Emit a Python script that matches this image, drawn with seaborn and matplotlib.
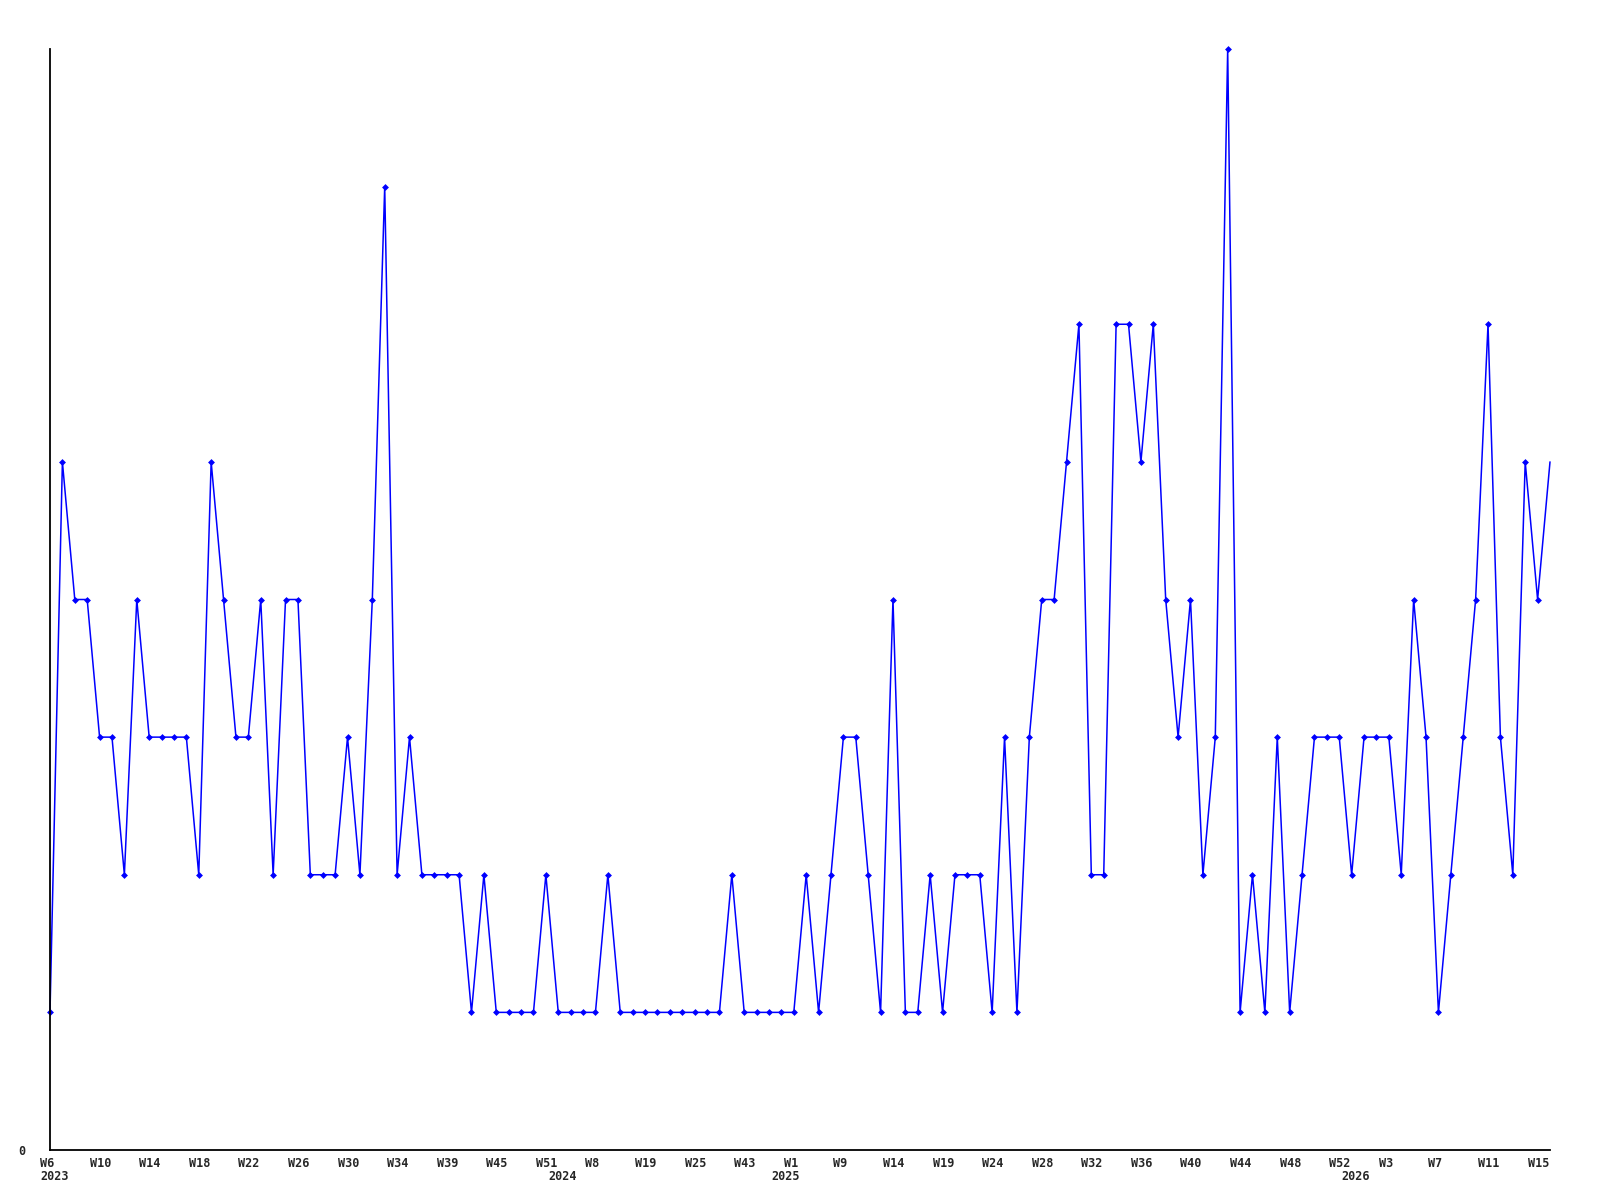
import numpy as np
import pandas as pd
import seaborn as sns
import matplotlib.pyplot as plt
from matplotlib.transforms import ScaledTranslation

# weekly counts, one entry per week that has data
weeks = (
    [f"W{w}" for w in range(6, 35)]
    + ["W35", "W36", "W38", "W39", "W40", "W42", "W44", "W45", "W46", "W48", "W50", "W51"]
    + ["W0", "W3", "W5", "W8", "W11", "W14", "W16", "W19", "W20", "W22", "W24", "W25",
       "W29", "W33", "W38", "W43", "W46", "W50"]
    + ["W0", "W1", "W3", "W5", "W7", "W9", "W10", "W11", "W13", "W14", "W15", "W17",
       "W18", "W19", "W20", "W21", "W22", "W24", "W25", "W26", "W27"]
    + [f"W{w}" for w in range(28, 53)]
    + [f"W{w}" for w in range(0, 17)]
)
years = [2023] * 41 + [2024] * 18 + [2025] * 46 + [2026] * 17

counts = [
    1, 5, 4, 4, 3, 3, 2, 4, 3, 3, 3, 3, 2, 5, 4, 3, 3, 4, 2, 4,
    4, 2, 2, 2, 3, 2, 4, 7, 2, 3, 2, 2, 2, 2, 1, 2, 1, 1, 1, 1,
    2, 1, 1, 1, 1, 2, 1, 1, 1, 1, 1, 1, 1, 1, 1, 2, 1, 1, 1, 1,
    1, 2, 1, 2, 3, 3, 2, 1, 4, 1, 1, 2, 1, 2, 2, 2, 1, 3, 1, 3,
    4, 4, 5, 6, 2, 2, 6, 6, 5, 6, 4, 3, 4, 2, 3, 8, 1, 2, 1, 3,
    1, 2, 3, 3, 3, 2, 3, 3, 3, 2, 4, 3, 1, 2, 3, 4, 6, 3, 2, 5,
    4, 5,
]

df = pd.DataFrame({"week": weeks, "year": years, "count": counts})
df["pos"] = np.arange(len(df))

sns.set_style("white")
plt.rcParams["font.family"] = ["DejaVu Sans Mono"]

fig = plt.figure(figsize=(16, 12), dpi=100)
ax = fig.add_axes([50 / 1600, 1 - 1150 / 1200, 1500 / 1600, 1101 / 1200])

sns.lineplot(data=df, x="pos", y="count", ax=ax, color="#0000ff", linewidth=1.1,
             marker="D", markersize=3.5, markeredgewidth=0,
             markevery=list(range(len(df) - 1)), clip_on=False)

ax.set_xlim(0, len(df) - 1)
ax.set_ylim(0, max(counts))
ax.set_xlabel("")
ax.set_ylabel("")

for s in ["top", "right"]:
    ax.spines[s].set_visible(False)
for s in ["left", "bottom"]:
    ax.spines[s].set_color("black")
    ax.spines[s].set_linewidth(1.3)

# y axis only shows the zero
ax.set_yticks([0])
ax.set_yticklabels(["0"], fontsize=8.5, fontweight="bold")
ax.tick_params(axis="y", length=0, pad=18)

# week labels every 4th point, left aligned a bit before the point
tick_pos = df["pos"][::4].tolist()
ax.set_xticks(tick_pos)
ax.set_xticklabels(df["week"][::4], fontsize=8.5, fontweight="bold", ha="left")
ax.tick_params(axis="x", length=0, pad=5)
shift = ScaledTranslation(-10 / 100, 0, fig.dpi_scale_trans)
for lab in ax.get_xticklabels():
    lab.set_transform(lab.get_transform() + shift)

# year label under the first week of each year
first = df.groupby("year")["pos"].min()
for yr, p in first.items():
    ax.annotate(str(yr), xy=(p, 0), xycoords=("data", "axes fraction"),
                xytext=(-10, -27), textcoords="offset pixels",
                ha="left", va="center", fontsize=8.5, fontweight="bold")

plt.savefig("out.png", dpi=100)
